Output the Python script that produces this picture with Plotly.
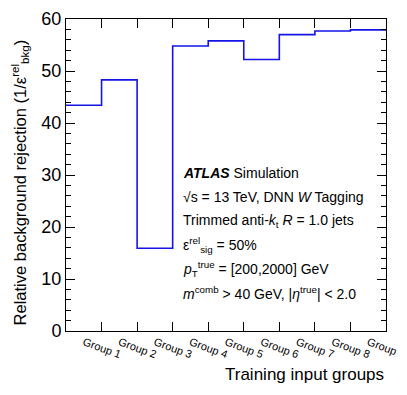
import plotly.graph_objects as go

# training input groups and the background rejection for each
groups = ["Group 1", "Group 2", "Group 3", "Group 4", "Group 5",
          "Group 6", "Group 7", "Group 8", "Group 9"]
rejection = [43.4, 48.3, 15.9, 54.8, 55.8, 52.2, 57.0, 57.7, 57.9]

# bin edges for the step histogram
edges = list(range(len(groups) + 1))
centers = [e + 0.5 for e in edges[:-1]]

font = "Liberation Sans, Arial, sans-serif"

fig = go.Figure()
fig.add_trace(go.Scatter(
    x=edges, y=rejection + [rejection[-1]],
    mode="lines", line=dict(color="#1414e6", width=1.6, shape="hv"),
    showlegend=False, hoverinfo="skip",
))

# page body adds an 8px offset, so the figure is a bit smaller than the window
fig.update_layout(
    width=399, height=387,
    margin=dict(l=58, r=21, t=11, b=64),
    plot_bgcolor="white", paper_bgcolor="white",
    font=dict(family=font, color="black"),
)

fig.update_xaxes(
    range=[0, 9], tickvals=centers, ticktext=groups, tickangle=20,
    tickfont=dict(size=11), ticks="", showgrid=False, zeroline=False,
    showline=True, linecolor="black", linewidth=1, mirror="ticks",
    automargin=False, ticklabeloverflow="allow",
    minor=dict(tickvals=edges[1:-1], ticks="inside", ticklen=9,
               tickcolor="black", showgrid=False),
)
fig.update_yaxes(
    range=[0, 60], dtick=10, ticks="inside", ticklen=9, tickcolor="black",
    tickfont=dict(size=18), showgrid=False, zeroline=False,
    showline=True, linecolor="black", linewidth=1, mirror="ticks",
    automargin=False,
    minor=dict(dtick=2, ticks="inside", ticklen=5, tickcolor="black",
               showgrid=False),
)

# axis titles
fig.add_annotation(
    text="Training input groups", xref="paper", yref="paper",
    x=1, y=-0.14, xanchor="right", yanchor="middle", showarrow=False,
    font=dict(size=17),
)
fig.add_annotation(
    text="Relative background rejection (1/ε<sup>rel</sup><sub>bkg</sub>)",
    xref="paper", yref="paper", x=-0.145, y=0.475, xanchor="center",
    yanchor="middle", textangle=-90, showarrow=False, font=dict(size=16.5),
)

# ATLAS label block
lines = [
    "<b><i>ATLAS</i></b> Simulation",
    "√s = 13 TeV, DNN <i>W</i> Tagging",
    "Trimmed anti-<i>k</i><sub>t</sub> <i>R</i> = 1.0 jets",
    "ε<sup>rel</sup><sub>sig</sub> = 50%",
    "<i>p</i><sub>T</sub><sup>true</sup> = [200,2000] GeV",
    "<i>m</i><sup>comb</sup> > 40 GeV, |<i>η</i><sup>true</sup>| < 2.0",
]
y0 = 173
for i, txt in enumerate(lines):
    ypix = y0 + i * 24
    fig.add_annotation(
        text=txt, xref="paper", yref="paper",
        x=(181 - 66) / 320, y=(331 - ypix) / 312,
        xanchor="left", yanchor="middle", showarrow=False,
        font=dict(size=14),
    )

fig.write_html("out.html")
